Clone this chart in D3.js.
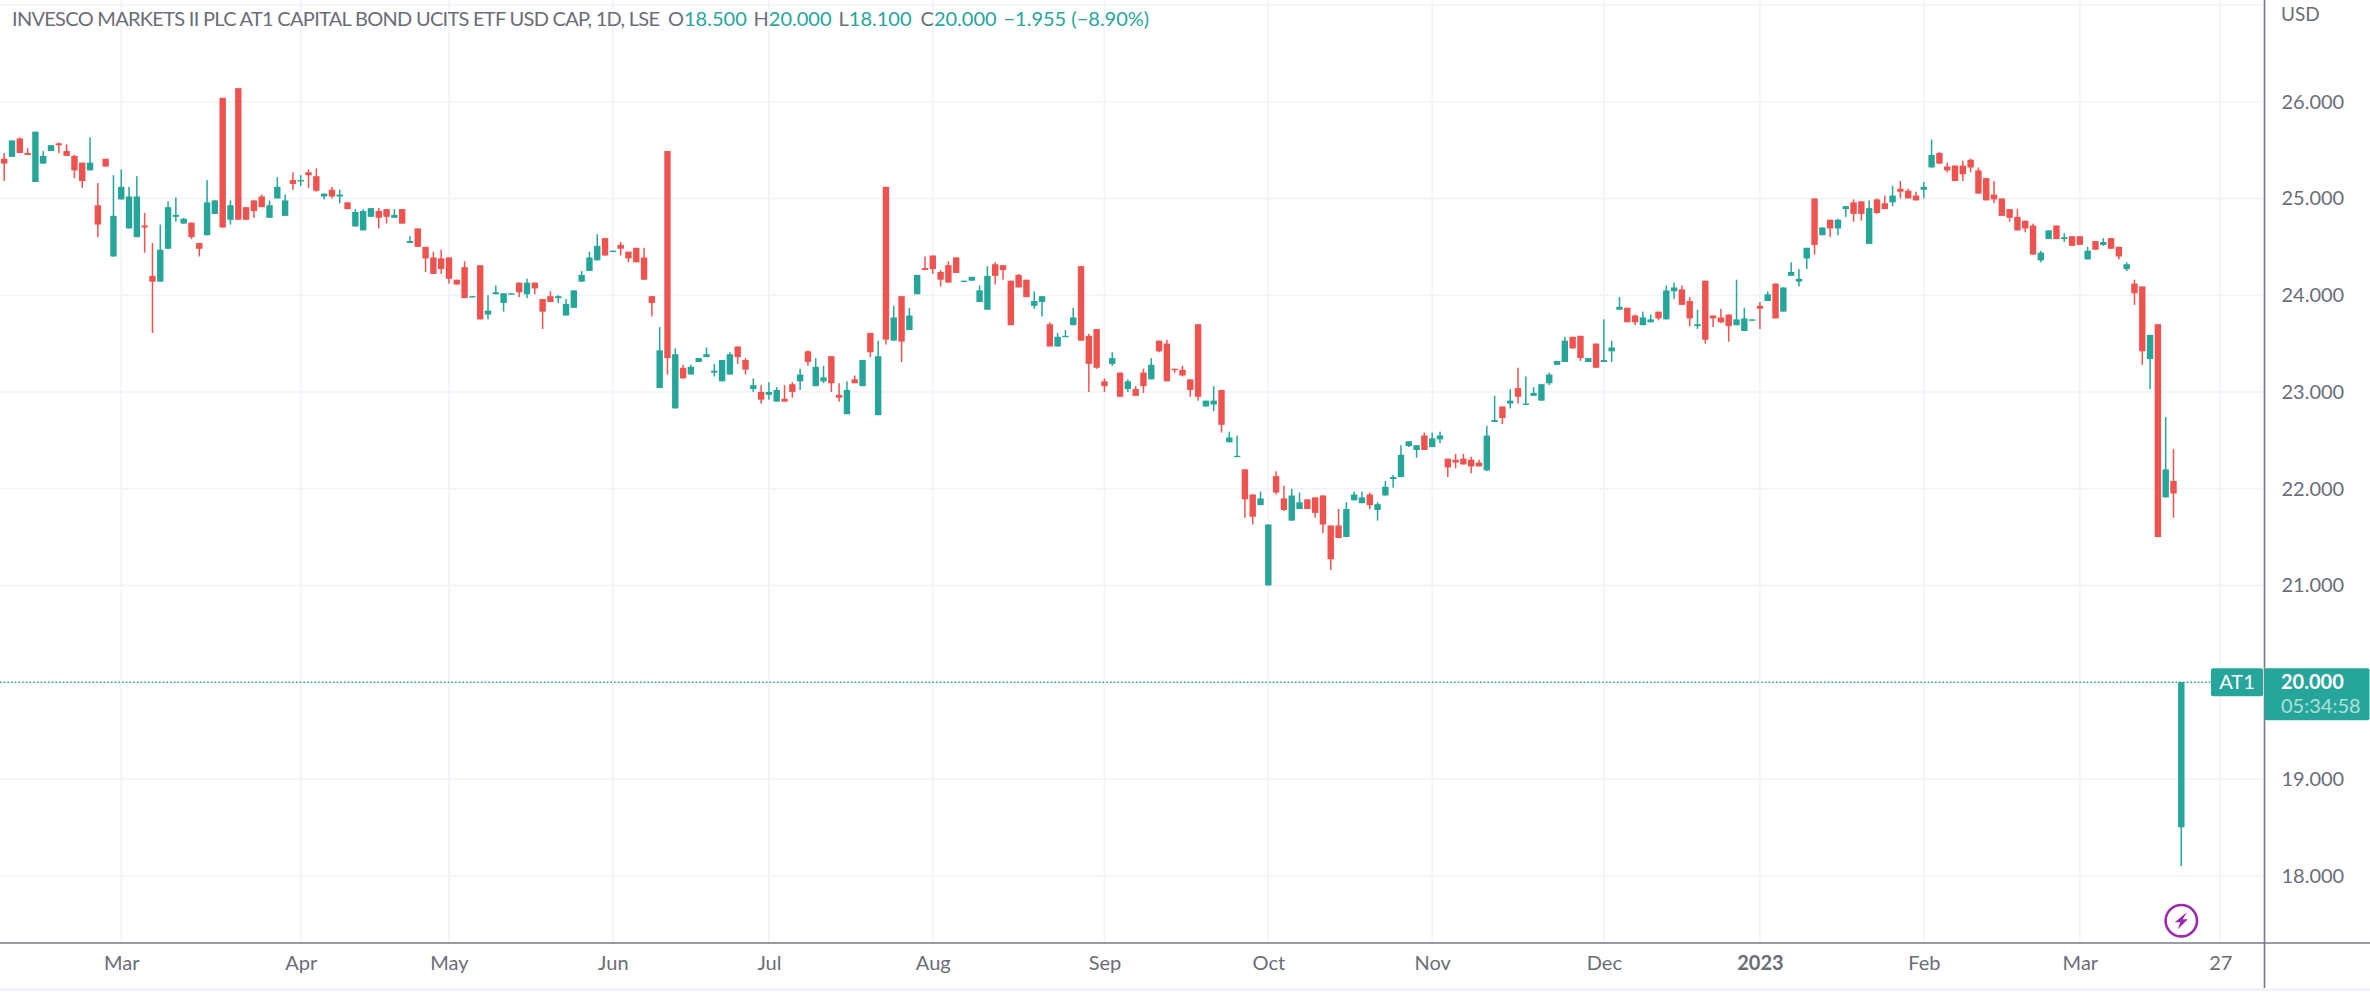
<!DOCTYPE html>
<html>
<head>
<meta charset="utf-8">
<title>AT1</title>
<script src="https://cdn.jsdelivr.net/npm/d3@7"></script>
<style>
  html, body { margin: 0; padding: 0; background: #fff; }
  svg { display: block; }
  text { font-family: Lato, sans-serif; }
</style>
</head>
<body>
<svg id="chart" width="2370" height="994"></svg>
<script>
// Daily candles (oldest first)
var opens = [
  25.41,25.43,25.62,25.47,25.17,25.36,25.49,25.57,25.49,25.44,
  25.37,25.29,24.93,25.41,24.40,24.99,24.69,24.60,24.72,24.20,
  24.14,24.48,24.81,24.74,24.75,24.54,24.62,24.84,26.04,24.78,
  26.14,24.91,24.98,25.02,24.80,25.00,24.82,25.19,25.18,25.27,
  25.23,25.02,25.09,25.02,24.96,24.71,24.67,24.81,24.87,24.89,
  24.80,24.89,24.54,24.69,24.50,24.39,24.38,24.39,24.16,24.29,
  23.98,24.31,23.80,24.01,23.92,24.01,24.13,24.01,24.13,23.96,
  23.99,23.97,23.79,23.87,24.14,24.25,24.36,24.59,24.45,24.52,
  24.45,24.49,24.39,23.99,23.04,25.49,22.83,23.25,23.18,23.31,
  23.36,23.20,23.11,23.18,23.47,23.33,23.03,23.00,22.97,22.90,
  22.93,23.08,23.11,23.42,23.06,23.11,23.37,22.97,22.77,23.13,
  23.06,23.61,22.76,25.12,23.53,23.99,23.64,24.01,24.28,24.41,
  24.24,24.31,24.39,24.14,24.15,23.93,23.85,24.32,24.31,24.15,
  24.21,24.16,23.89,23.93,23.70,23.47,23.57,23.69,24.30,23.58,
  23.65,23.11,23.29,23.20,23.03,23.03,23.20,23.13,23.53,23.50,
  23.24,23.23,23.13,23.70,22.85,22.87,23.02,22.48,22.33,22.20,
  21.94,21.83,21.00,22.13,21.90,21.67,21.79,21.89,21.91,21.93,
  21.62,21.62,21.50,21.88,21.85,21.94,21.78,21.93,22.10,22.12,
  22.44,22.40,22.55,22.43,22.51,22.31,22.30,22.31,22.30,22.27,
  22.19,22.69,22.85,22.88,23.04,22.87,22.96,22.91,23.09,23.28,
  23.31,23.57,23.58,23.31,23.50,23.31,23.42,23.85,23.87,23.79,
  23.69,23.72,23.83,23.75,24.04,24.06,23.94,23.68,24.15,23.79,
  23.77,23.80,23.69,23.63,23.74,23.89,23.94,24.12,23.83,24.20,
  24.14,24.38,25.00,24.62,24.78,24.69,24.89,24.96,24.97,24.53,
  24.99,24.95,24.96,25.10,25.08,25.03,25.09,25.32,25.47,25.33,
  25.34,25.34,25.40,25.29,25.21,25.04,25.00,24.89,24.81,24.77,
  24.72,24.36,24.58,24.72,24.58,24.61,24.61,24.37,24.56,24.52,
  24.59,24.50,24.27,24.12,24.09,23.34,23.70,21.91,22.08,18.50
];
var highs = [
  25.47,25.60,25.63,25.52,25.69,25.49,25.55,25.58,25.56,25.45,
  25.37,25.63,25.16,25.41,25.24,25.30,25.12,25.23,24.85,24.54,
  24.73,24.97,25.01,24.80,24.75,24.54,25.19,24.98,26.04,24.98,
  26.14,24.91,24.98,25.04,24.98,25.22,25.04,25.27,25.24,25.30,
  25.31,25.05,25.12,25.09,24.96,24.89,24.89,24.90,24.90,24.89,
  24.89,24.89,24.61,24.69,24.50,24.45,24.47,24.39,24.16,24.35,
  23.99,24.31,24.00,24.10,24.02,24.02,24.13,24.17,24.13,23.96,
  24.04,24.00,23.96,24.05,24.25,24.45,24.63,24.59,24.46,24.55,
  24.45,24.49,24.49,23.99,23.67,25.49,23.45,23.28,23.28,23.35,
  23.46,23.29,23.33,23.41,23.47,23.35,23.14,23.07,23.10,23.05,
  23.07,23.10,23.24,23.43,23.35,23.27,23.37,23.09,23.11,23.17,
  23.33,23.61,23.53,25.12,23.89,23.99,23.87,24.21,24.40,24.41,
  24.26,24.35,24.39,24.15,24.19,24.10,24.30,24.34,24.31,24.15,
  24.22,24.16,24.04,23.99,23.72,23.61,23.64,23.87,24.30,23.60,
  23.65,23.14,23.41,23.20,23.13,23.06,23.24,23.35,23.53,23.54,
  23.24,23.27,23.13,23.70,22.91,23.06,23.02,22.59,22.55,22.20,
  21.94,21.97,21.63,22.18,22.03,22.00,21.96,21.89,21.91,21.93,
  21.62,21.79,21.86,21.97,21.97,21.96,21.86,22.08,22.14,22.45,
  22.49,22.45,22.58,22.58,22.59,22.31,22.36,22.36,22.33,22.30,
  22.65,22.96,22.85,23.03,23.25,23.16,23.05,23.08,23.20,23.32,
  23.57,23.57,23.58,23.35,23.50,23.75,23.53,23.98,23.87,23.80,
  23.83,23.80,23.83,24.10,24.13,24.10,23.98,23.85,24.15,23.79,
  23.86,23.80,24.16,23.87,23.75,23.93,24.04,24.12,24.08,24.34,
  24.27,24.49,25.00,24.70,24.78,24.79,24.92,24.99,24.97,24.98,
  25.00,25.03,25.13,25.18,25.10,25.07,25.17,25.61,25.48,25.37,
  25.34,25.39,25.41,25.32,25.21,25.18,25.00,24.89,24.89,24.77,
  24.74,24.46,24.67,24.72,24.64,24.61,24.61,24.50,24.56,24.59,
  24.59,24.50,24.34,24.16,24.09,23.59,23.70,22.74,22.41,20.00
];
var lows = [
  25.18,25.43,25.47,25.45,25.17,25.36,25.49,25.47,25.44,25.21,
  25.11,25.29,24.60,25.33,24.40,24.99,24.69,24.60,24.44,23.61,
  24.14,24.48,24.76,24.74,24.58,24.40,24.62,24.84,24.70,24.73,
  24.78,24.78,24.80,24.91,24.80,25.00,24.82,25.09,25.13,25.11,
  25.07,24.99,25.00,24.95,24.89,24.71,24.67,24.81,24.69,24.74,
  24.80,24.74,24.54,24.50,24.24,24.22,24.22,24.12,24.11,23.97,
  23.98,23.75,23.75,24.01,23.83,24.01,23.98,23.97,24.01,23.65,
  23.93,23.92,23.79,23.87,24.14,24.25,24.36,24.41,24.45,24.41,
  24.34,24.34,24.16,23.78,23.04,23.18,22.83,23.14,23.18,23.31,
  23.36,23.16,23.11,23.18,23.29,23.18,23.00,22.88,22.92,22.90,
  22.90,22.94,23.02,23.27,23.06,23.09,23.00,22.90,22.77,23.09,
  23.06,23.36,22.76,23.49,23.53,23.31,23.64,24.01,24.26,24.22,
  24.09,24.13,24.23,24.14,24.15,23.93,23.85,24.11,24.16,23.69,
  24.08,23.98,23.86,23.78,23.47,23.47,23.57,23.69,23.53,23.00,
  23.24,23.00,23.27,22.95,23.00,22.96,22.99,23.13,23.41,23.11,
  23.20,23.16,22.95,22.91,22.85,22.80,22.58,22.48,22.33,21.70,
  21.63,21.83,21.00,21.94,21.77,21.67,21.79,21.79,21.70,21.54,
  21.16,21.49,21.50,21.88,21.85,21.79,21.67,21.93,22.01,22.12,
  22.43,22.32,22.40,22.43,22.47,22.12,22.21,22.25,22.16,22.23,
  22.18,22.69,22.67,22.83,22.88,22.87,22.96,22.91,23.07,23.28,
  23.31,23.45,23.32,23.31,23.25,23.31,23.31,23.85,23.72,23.69,
  23.69,23.72,23.74,23.75,23.96,23.90,23.68,23.65,23.50,23.67,
  23.71,23.52,23.69,23.63,23.74,23.65,23.94,23.76,23.83,24.20,
  24.09,24.27,24.42,24.62,24.60,24.62,24.81,24.76,24.77,24.53,
  24.84,24.89,24.92,25.00,25.00,24.98,25.00,25.32,25.36,25.27,
  25.18,25.18,25.27,25.05,24.98,24.95,24.82,24.76,24.67,24.65,
  24.42,24.34,24.58,24.58,24.55,24.51,24.52,24.37,24.47,24.51,
  24.48,24.37,24.25,23.90,23.28,23.03,21.50,21.91,21.70,18.10
];
var closes = [
  25.36,25.60,25.47,25.45,25.69,25.44,25.55,25.55,25.44,25.29,
  25.18,25.37,24.73,25.33,24.82,25.12,25.02,25.02,24.70,24.14,
  24.47,24.91,24.83,24.79,24.60,24.48,24.96,24.98,24.70,24.93,
  24.78,24.78,24.87,24.91,24.93,25.12,24.98,25.15,25.19,25.24,
  25.08,25.05,25.02,25.04,24.89,24.86,24.87,24.90,24.80,24.81,
  24.83,24.74,24.56,24.50,24.38,24.22,24.27,24.17,24.11,23.97,
  23.99,23.75,23.84,24.03,24.02,24.02,24.03,24.13,24.07,23.83,
  23.93,23.99,23.91,24.05,24.21,24.39,24.51,24.41,24.46,24.48,
  24.38,24.34,24.16,23.92,23.43,23.35,23.39,23.14,23.26,23.35,
  23.39,23.22,23.33,23.39,23.36,23.23,23.07,22.92,23.00,23.02,
  22.90,23.00,23.18,23.31,23.26,23.15,23.09,22.94,23.02,23.09,
  23.33,23.41,23.37,23.54,23.77,23.52,23.79,24.21,24.26,24.27,
  24.16,24.13,24.23,24.15,24.19,24.05,24.20,24.20,24.26,23.69,
  24.08,23.98,23.94,23.99,23.47,23.57,23.58,23.77,23.53,23.29,
  23.25,23.06,23.35,22.95,23.11,22.96,23.06,23.28,23.42,23.11,
  23.23,23.17,23.02,22.95,22.91,22.91,22.66,22.53,22.34,21.89,
  21.71,21.90,21.63,21.96,21.78,21.93,21.86,21.79,21.75,21.63,
  21.27,21.49,21.79,21.94,21.91,21.83,21.84,22.02,22.12,22.35,
  22.49,22.45,22.40,22.52,22.55,22.22,22.27,22.25,22.23,22.23,
  22.55,22.71,22.73,22.91,22.95,22.88,22.99,23.08,23.18,23.32,
  23.53,23.45,23.35,23.35,23.25,23.33,23.46,23.88,23.72,23.72,
  23.77,23.75,23.76,24.05,24.08,23.90,23.76,23.70,23.54,23.76,
  23.72,23.68,23.75,23.76,23.75,23.86,24.01,23.76,24.08,24.24,
  24.17,24.49,24.52,24.70,24.69,24.78,24.92,24.84,24.84,24.90,
  24.85,24.89,25.03,25.07,25.00,24.98,25.12,25.45,25.36,25.29,
  25.18,25.25,25.32,25.05,24.98,24.99,24.82,24.80,24.67,24.69,
  24.42,24.44,24.67,24.58,24.60,24.51,24.52,24.46,24.47,24.55,
  24.48,24.40,24.32,24.02,23.42,23.59,21.50,22.20,21.95,20.00
];

// Axis ticks: bar number of the first session of each month, and its label
var timeTicks = [15, 38, 57, 78, 98, 119, 141, 162, 183, 205, 225, 246, 266, 284];
var timeLabels = ["Mar", "Apr", "May", "Jun", "Jul", "Aug", "Sep", "Oct", "Nov", "Dec", "2023", "Feb", "Mar", "27"];
var priceTicks = [18, 19, 20, 21, 22, 23, 24, 25, 26];
var gridPrices = [18, 19, 20, 21, 22, 23, 24, 25, 26, 27];

var lastPrice = 20;
var countdown = "05:34:58";
var chartTitle = "INVESCO MARKETS II PLC AT1 CAPITAL BOND UCITS ETF USD CAP, 1D, LSE";
var ohlcLabels = ["O", "H", "L", "C"];
var ohlcValues = ["18.500", "20.000", "18.100", "20.000"];
var changeLabel = "\u22121.955 (\u22128.90%)";

var green = "#26a69a", red = "#ef5350", gridColor = "#f0f3fa", axisColor = "#787b86", textColor = "#6a6d78";
var plotRight = 2264.5, plotBottom = 943, axisBottom = 988;
var fontSize = 20;

var svg = d3.select("#chart");

var x = d3.scaleLinear().domain([0, opens.length - 1]).range([4.2, 2181.3]);
var y = d3.scaleLinear().domain([26, 18]).range([101.7, 875.7]);

// Grid
svg.append("g").selectAll("line").data(gridPrices).join("line")
  .attr("x1", 0).attr("x2", plotRight)
  .attr("y1", d => y(d)).attr("y2", d => y(d))
  .attr("stroke", gridColor).attr("stroke-width", 1.6);
svg.append("g").selectAll("line").data(timeTicks).join("line")
  .attr("x1", d => x(d)).attr("x2", d => x(d))
  .attr("y1", 0).attr("y2", plotBottom)
  .attr("stroke", gridColor).attr("stroke-width", 1.6);

// Last price line
svg.append("line")
  .attr("x1", 0).attr("x2", 2211)
  .attr("y1", y(lastPrice)).attr("y2", y(lastPrice))
  .attr("stroke", green).attr("stroke-width", 1.5).attr("stroke-dasharray", "1.5 2.2");

// Candles
var candles = svg.append("g").selectAll("g").data(d3.range(opens.length)).join("g")
  .attr("fill", i => closes[i] >= opens[i] ? green : red);
candles.append("rect")
  .attr("x", i => x(i) - 0.75).attr("width", 1.5)
  .attr("y", i => y(highs[i]))
  .attr("height", i => y(lows[i]) - y(highs[i]));
candles.append("rect")
  .attr("x", i => x(i) - 3.2).attr("width", 6.4)
  .attr("y", i => y(Math.max(opens[i], closes[i])))
  .attr("height", i => Math.max(1.4, Math.abs(y(opens[i]) - y(closes[i]))));

// Price axis
var priceAxis = d3.axisRight(y).tickValues(priceTicks).tickFormat(d3.format(".3f")).tickSize(0).tickPadding(17);
var priceG = svg.append("g").attr("transform", "translate(" + plotRight + ",0)").call(priceAxis);
priceG.select(".domain").remove();
priceG.selectAll("text").attr("font-size", fontSize).attr("fill", textColor).style("font-family", "Lato, sans-serif");

// Time axis
var timeAxis = d3.axisBottom(x).tickValues(timeTicks).tickFormat((d, i) => timeLabels[i]).tickSize(0).tickPadding(13);
var timeG = svg.append("g").attr("transform", "translate(0," + plotBottom + ")").call(timeAxis);
timeG.select(".domain").remove();
timeG.selectAll("text").attr("font-size", fontSize).attr("fill", textColor).style("font-family", "Lato, sans-serif")
  .attr("font-weight", d => d == 225 ? 700 : 400);

// Axis borders
svg.append("rect").attr("x", 0).attr("y", axisBottom).attr("width", 2370).attr("height", 3).attr("fill", gridColor);
svg.append("line").attr("x1", 0).attr("x2", 2370).attr("y1", plotBottom).attr("y2", plotBottom)
  .attr("stroke", axisColor).attr("stroke-width", 1.6);
svg.append("line").attr("x1", plotRight).attr("x2", plotRight).attr("y1", 0).attr("y2", axisBottom)
  .attr("stroke", axisColor).attr("stroke-width", 1.6);

// Title and OHLC readout
svg.append("text").attr("x", 12).attr("y", 26).attr("font-size", fontSize).attr("fill", textColor)
  .attr("textLength", 648).text(chartTitle);
var ohlcX = [668, 753.5, 838.5, 920.5];
var legend = svg.append("text").attr("y", 26).attr("font-size", fontSize);
ohlcLabels.forEach((lab, i) => {
  legend.append("tspan").attr("x", ohlcX[i]).attr("fill", textColor).text(lab);
  legend.append("tspan").attr("fill", green).text(ohlcValues[i]);
});
legend.append("tspan").attr("x", 1003.5).attr("fill", green).text(changeLabel);

svg.append("text").attr("x", 2281).attr("y", 21).attr("font-size", 19).attr("fill", textColor).text("USD");

// Last price tags
svg.append("rect").attr("x", 2211).attr("y", y(lastPrice) - 14).attr("width", 52).attr("height", 28).attr("rx", 2).attr("fill", green);
svg.append("text").attr("x", 2237).attr("y", y(lastPrice) + 7).attr("text-anchor", "middle")
  .attr("font-size", fontSize).attr("fill", "#fff").text("AT1");
svg.append("rect").attr("x", plotRight).attr("y", y(lastPrice) - 14).attr("width", 105).attr("height", 52).attr("rx", 2).attr("fill", green);
svg.append("text").attr("x", 2281).attr("y", y(lastPrice) + 7).attr("font-size", fontSize).attr("font-weight", 700).attr("fill", "#fff").text(d3.format(".3f")(lastPrice));
svg.append("text").attr("x", 2281).attr("y", y(lastPrice) + 31).attr("font-size", fontSize).attr("fill", "#fff").attr("fill-opacity", 0.65).text(countdown);

// Event marker under the last bar
var marker = svg.append("g").attr("transform", "translate(" + x(opens.length - 1) + ",920.7)");
marker.append("circle").attr("r", 15.7).attr("fill", "#fff").attr("stroke", "#9c27b0").attr("stroke-width", 2.6);
marker.append("path").attr("d", "M5.5,-8.5 L-6.5,1.5 L-1,1.5 L-3.5,8.5 L6.5,-1.5 L1.5,-1.5 Z").attr("fill", "#9c27b0");
</script>
</body>
</html>
